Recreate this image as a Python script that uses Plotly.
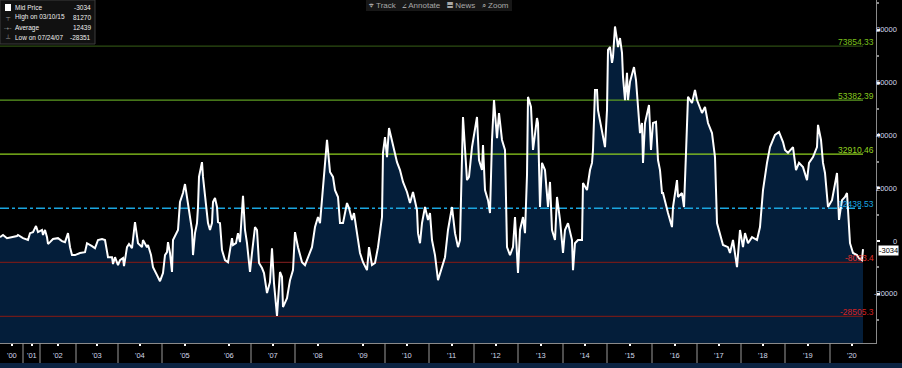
import plotly.graph_objects as go

# ---------------- data ----------------
obs_index = [
    0, 3, 7, 12, 17, 18, 23, 28, 30, 33, 36, 38, 42, 43, 45, 47, 48, 50, 53, 58,
    62, 65, 68, 70, 72, 75, 80, 85, 87, 92, 95, 98, 102, 105, 108, 112, 113, 115, 118, 120,
    123, 124, 127, 129, 132, 135, 137, 138, 142, 143, 147, 148, 151, 153, 157, 160, 163, 165, 167, 168,
    170, 172, 173, 177, 178, 180, 183, 185, 187, 188, 190, 192, 193, 195, 197, 198, 199, 202, 203, 205,
    208, 210, 212, 213, 215, 217, 218, 220, 222, 225, 228, 230, 232, 233, 236, 238, 240, 243, 245, 247,
    250, 252, 255, 257, 259, 262, 264, 267, 270, 272, 274, 277, 280, 282, 283, 287, 290, 293, 295, 298,
    302, 305, 308, 312, 315, 318, 320, 323, 325, 327, 330, 333, 335, 338, 340, 343, 347, 349, 352, 354,
    357, 360, 363, 367, 369, 372, 375, 378, 382, 383, 385, 387, 389, 392, 395, 397, 400, 403, 407, 410,
    413, 417, 418, 420, 422, 425, 428, 430, 432, 435, 438, 442, 445, 448, 452, 455, 458, 460, 462, 463,
    467, 469, 472, 475, 477, 479, 482, 483, 485, 488, 490, 492, 494, 497, 499, 502, 505, 507, 510, 513,
    515, 518, 520, 523, 525, 527, 528, 531, 533, 537, 538, 540, 542, 545, 548, 550, 552, 555, 557, 560,
    563, 565, 568, 572, 573, 575, 578, 582, 583, 587, 590, 592, 593, 595, 597, 598, 602, 605, 607, 608,
    610, 612, 613, 615, 617, 618, 620, 622, 623, 625, 627, 628, 630, 632, 634, 636, 638, 640, 642, 643,
    645, 647, 649, 651, 653, 656, 658, 660, 662, 663, 666, 668, 672, 673, 677, 678, 682, 684, 686, 688,
    692, 695, 697, 702, 705, 708, 712, 715, 717, 720, 723, 728, 730, 733, 737, 740, 743, 745, 748, 752,
    757, 760, 763, 767, 770, 775, 779, 783, 785, 788, 793, 796, 799, 803, 807, 809, 813, 817, 818, 821,
    823, 825, 828, 832, 834, 837, 839, 842, 845, 847, 850, 853, 857, 859, 862, 863,
]

mid_price = [
    1500, 2300, 1100, 1500, 1900, 2300, 1100, 400, 3000, 3400, 5700, 3400, 4200, 2300, 4200, 1500, -1100, -400, 800, 1100,
    0, -400, 3000, -2300, -5300, -5300, -4500, -4200, -800, -1900, -2700, 400, 800, 400, -6100, -6100, -8700, -6100, -9100, -7200,
    -6400, -9500, -2300, -1100, -2700, 7200, 1500, -800, -2300, 400, -2300, -1500, -5300, -9900, -12900, -15200, -12100, -5300, -4200, -400,
    -4500, -11700, 400, 3400, 4200, 14800, 18200, 21600, 16300, 15500, 9100, 4200, -5300, 3000, 6800, 12900, 24300, 29900, 24300, 18200,
    6800, 4200, 6800, 14800, 16300, 12900, 7200, 6800, -3400, -7200, -8000, -3400, 1100, -1500, -800, 3000, -400, 17100, 4200, -800,
    -11700, -4500, 5300, 4200, -8300, -10200, -12100, -19700, -15500, -2700, -15900, -28351, -11700, -13600, -25000, -21600, -14800, -11000, 3400, -2300,
    -8000, -9100, -6100, -2300, 5300, 9100, 6800, 19300, 26900, 38300, 26200, 24300, 19300, 16700, 6800, 6800, 14400, 12500, 8000, 10600,
    3000, -4500, -8000, -11000, -2300, -9100, -8300, -2300, 9100, 33400, 39400, 31800, 42800, 38300, 33700, 29900, 26900, 22400, 18600, 14400,
    18600, 11700, 3000, -800, 6800, 12900, 8000, 10600, 400, -5300, -14800, -9900, -6100, 4200, 12900, 3000, -2300, 400, 38300, 47000,
    23100, 24300, 35600, 43200, 47000, 30700, 26900, 36400, 19300, 15500, 10600, 38300, 53400, 39000, 48500, 38300, 34500, -2300, -5300, -2300,
    9100, -12100, 4200, 9100, 3000, 25000, 54600, 50800, 34500, 46600, 44700, 12900, 29600, 26900, 12900, 22400, 4200, 400, 16700, 8000,
    -4500, 4200, 6800, 400, -11000, -800, 400, 400, 22000, 19300, 26900, 29600, 34500, 57200, 57200, 49600, 40900, 35600, 49600, 72400,
    73500, 67500, 69700, 81270, 76200, 73500, 76900, 71300, 62200, 53400, 63700, 53400, 60300, 63700, 65900, 61000, 52300, 40900, 44700, 29600,
    44700, 48500, 51500, 34500, 44700, 45100, 30700, 26900, 18200, 18200, 12900, 10600, 5300, 12900, 23100, 16700, 18200, 12900, 33400, 54600,
    52300, 57200, 53400, 48500, 50800, 44700, 40900, 31800, 6800, 3000, -1500, -2300, -4500, 400, -9900, 4200, -2300, 3000, -800, 1500,
    400, 5300, 19300, 29600, 35600, 40200, 41300, 37500, 34500, 33400, 35600, 26900, 29600, 28000, 23100, 29600, 31800, 35600, 44000, 38300,
    29600, 25800, 12900, 15500, 19300, 25800, 8000, 15500, 16700, 18200, -800, -4500, -5300, -6400, -7200, -3034,
]

year_labels = ["'00", "'01", "'02", "'03", "'04", "'05", "'06", "'07", "'08", "'09", "'10",
               "'11", "'12", "'13", "'14", "'15", "'16", "'17", "'18", "'19", "'20"]
year_start_obs = [0, 23, 40, 76, 118, 162, 207, 251, 295, 340, 385, 429, 474, 518, 563, 607,
                  652, 697, 741, 785, 830]
axis_end_obs = 874
separator_obs = [23, 40, 76, 118, 162, 251, 295, 385, 429, 474, 518, 563, 607, 652, 697, 741, 785, 830]

band_values = [73854.33, 53382.39, 32910.46, 12438.53, -8033.40, -28505.33]
band_labels = ["73854.33", "53382.39", "32910.46", "12438.53", "-8033.4", "-28505.3"]

legend_names = ["Mid Price", "High on 03/10/15", "Average", "Low on 07/24/07"]
legend_values = ["-3034", "81270", "12439", "-28351"]
last_price = -3034

y_ticks = [-20000, 0, 20000, 40000, 60000, 80000]
y_range = [-38600, 91300]

# ---------------- styles ----------------
band_line_colors = ["#2d4d12", "#5d9c22", "#8fd11f", "#1aa6e0", "#6e1a1a", "#6e1a1a"]
band_text_colors = ["#7cc21c", "#86c91e", "#95d420", "#1aa6e0", "#e0322a", "#d52222"]
band_dash = ["solid", "solid", "solid", "dashdot", "solid", "solid"]
FILL = "#041e3a"
FONT = "Liberation Sans, Arial, sans-serif"
TXT = "#d0d8ea"

PW, PH = 876, 343


def px(xp):
    return xp / PW


def py(yp):
    return 1 - yp / PH


fig = go.Figure()

# floor trace at the axis bottom so the fill reaches the bottom of the plot
fig.add_trace(go.Scatter(x=obs_index, y=[y_range[0]] * len(obs_index), mode="lines",
                         line=dict(width=0, color=FILL), hoverinfo="skip", showlegend=False))
fig.add_trace(go.Scatter(x=obs_index, y=mid_price, mode="lines", fill="tonexty",
                         fillcolor=FILL, line=dict(width=0, color=FILL),
                         hoverinfo="skip", showlegend=False))

# band lines above the fill, below the price line
for v, lc, d in zip(band_values, band_line_colors, band_dash):
    fig.add_trace(go.Scatter(x=[obs_index[0], obs_index[-1]], y=[v, v], mode="lines",
                             line=dict(color=lc, width=1.3, dash=d),
                             hoverinfo="skip", showlegend=False))

fig.add_trace(go.Scatter(x=obs_index, y=mid_price, mode="lines",
                         line=dict(color="white", width=2), name="Mid Price", showlegend=False))

shapes = []
annotations = []

for v, lab, tc in zip(band_values, band_labels, band_text_colors):
    annotations.append(dict(xref="paper", yref="y", x=1.0, y=v, text=lab, showarrow=False,
                            xanchor="right", yanchor="bottom", yshift=-3,
                            font=dict(family=FONT, size=8.5, color=tc)))

# year separators in axis strip
for s in separator_obs:
    shapes.append(dict(type="line", xref="x", yref="paper", x0=s, x1=s, y0=0, y1=-20 / PH,
                       line=dict(color="#9a9a9a", width=1)))

# x labels
label_pos = [(year_start_obs[i] + (year_start_obs[i + 1] if i + 1 < len(year_start_obs) else axis_end_obs)) / 2
             for i in range(len(year_start_obs))]
for lp, lab in zip(label_pos, year_labels):
    annotations.append(dict(xref="x", yref="paper", x=lp, y=py(355), text=lab, showarrow=False,
                            xanchor="center", yanchor="middle",
                            font=dict(family=FONT, size=7.5, color=TXT)))

# y labels
for t in y_ticks:
    annotations.append(dict(xref="paper", yref="y", x=px(899), y=t, text=str(t), showarrow=False,
                            xanchor="right", yanchor="middle",
                            font=dict(family=FONT, size=7.5, color=TXT)))

# bottom navy strip
shapes.append(dict(type="rect", xref="paper", yref="paper", x0=0, x1=902 / PW,
                   y0=-25 / PH, y1=-20 / PH, fillcolor="#0b2342", line=dict(width=0)))

# legend box
shapes.append(dict(type="rect", xref="paper", yref="paper", x0=px(0), x1=px(95), y0=py(44), y1=py(0),
                   fillcolor="#111111", line=dict(color="#3c3c3c", width=1)))
shapes.append(dict(type="rect", xref="paper", yref="paper", x0=px(5), x1=px(11), y0=py(11), y1=py(4),
                   fillcolor="white", line=dict(width=0)))
icons = ["", "┬", "-+-", "┴"]
for i, (nm, val) in enumerate(zip(legend_names, legend_values)):
    yy = py(7.5 + 10 * i)
    annotations.append(dict(xref="paper", yref="paper", x=px(13), y=yy, text=nm, showarrow=False,
                            xanchor="left", yanchor="middle",
                            font=dict(family=FONT, size=6.5, color="#f0f0f0")))
    annotations.append(dict(xref="paper", yref="paper", x=px(93), y=yy, text=val, showarrow=False,
                            xanchor="right", yanchor="middle",
                            font=dict(family=FONT, size=6.5, color="#f0f0f0")))
    if icons[i]:
        annotations.append(dict(xref="paper", yref="paper", x=px(8), y=yy, text=icons[i], showarrow=False,
                                xanchor="center", yanchor="middle",
                                font=dict(family=FONT, size=6, color="#9a9a9a")))

# toolbar
shapes.append(dict(type="rect", xref="paper", yref="paper", x0=px(366), x1=px(512), y0=py(11), y1=py(0),
                   fillcolor="#171717", line=dict(width=0)))
annotations.append(dict(xref="paper", yref="paper", x=px(439), y=py(5), showarrow=False,
                        text="⌖ Track   ∠ Annotate   ▤ News   ⌕ Zoom",
                        xanchor="center", yanchor="middle",
                        font=dict(family=FONT, size=8, color="#a8a8a8")))

# last price tag
annotations.append(dict(xref="paper", yref="y", x=px(878), y=last_price, text=str(last_price),
                        showarrow=False, xanchor="left", yanchor="middle", bgcolor="white",
                        borderpad=0, yshift=-1, font=dict(family=FONT, size=7.5, color="black")))

fig.update_layout(
    width=902, height=368,
    margin=dict(l=0, r=26, t=0, b=25),
    paper_bgcolor="black", plot_bgcolor="black",
    showlegend=False,
    shapes=shapes, annotations=annotations,
    font=dict(family=FONT, color=TXT),
    xaxis=dict(range=[0, PW], tickmode="array", tickvals=label_pos, showticklabels=False,
               showgrid=False, zeroline=False, showline=True, linecolor="#8a8a8a", linewidth=1,
               ticks="outside", ticklen=2, tickwidth=2, tickcolor="white"),
    yaxis=dict(range=y_range, side="right", tickmode="array", tickvals=y_ticks, showticklabels=False,
               showgrid=False, zeroline=False, showline=True, linecolor="#8a8a8a", linewidth=1,
               ticks="outside", ticklen=3, tickwidth=2, tickcolor="white",
               minor=dict(dtick=10000, tick0=0, ticks="outside", ticklen=2, tickcolor="#8a8a8a")),
)

fig.write_html("out.html", config={"displayModeBar": False},
               post_script="document.body.style.margin='0px';document.body.style.background='black';")
